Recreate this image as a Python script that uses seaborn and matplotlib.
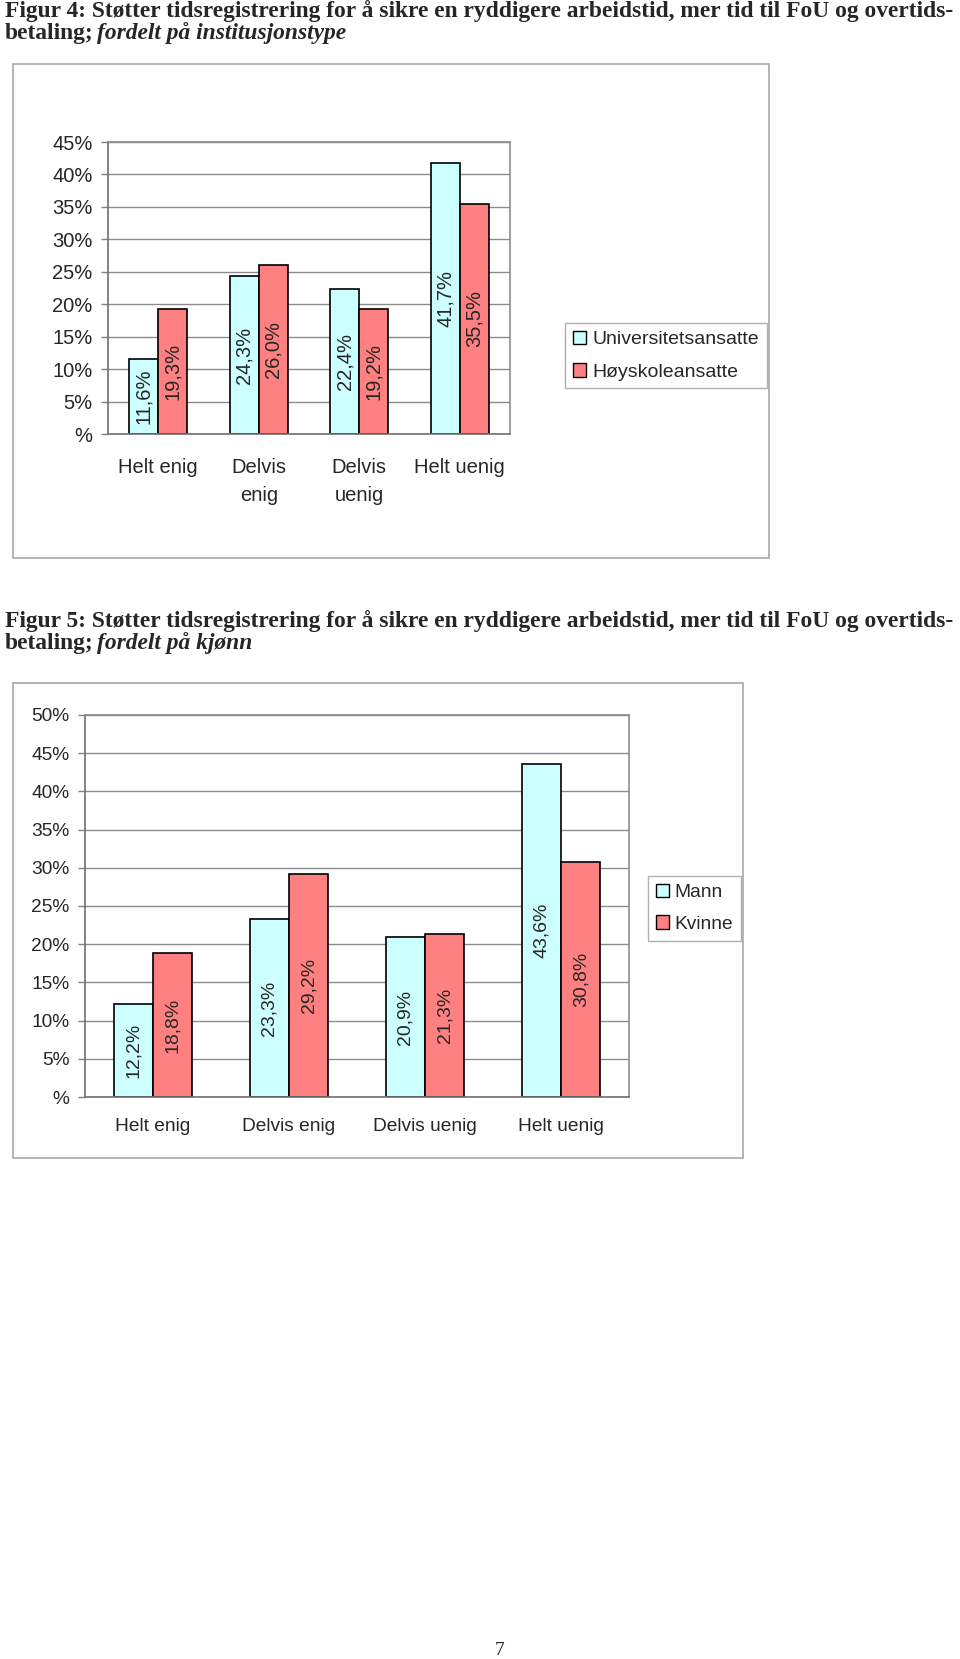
import matplotlib
matplotlib.use('Agg')
import matplotlib.pyplot as plt
import matplotlib.patches as mpatches
import numpy as np
import pandas as pd
import seaborn as sns

# data
svar_1 = ['Helt enig', 'Delvis\nenig', 'Delvis\nuenig', 'Helt uenig']
univ = [11.6, 24.3, 22.4, 41.7]
hoysk = [19.3, 26.0, 19.2, 35.5]
grupper_1 = ['Universitetsansatte', 'Høyskoleansatte']

svar_2 = ['Helt enig', 'Delvis enig', 'Delvis uenig', 'Helt uenig']
mann = [12.2, 23.3, 20.9, 43.6]
kvinne = [18.8, 29.2, 21.3, 30.8]
grupper_2 = ['Mann', 'Kvinne']

farger = ['#CCFFFF', '#FF8080']

tittel_1 = 'Figur 4: Støtter tidsregistrering for å sikre en ryddigere arbeidstid, mer tid til FoU og overtids-'
tittel_1b = 'fordelt på institusjonstype'
tittel_2 = 'Figur 5: Støtter tidsregistrering for å sikre en ryddigere arbeidstid, mer tid til FoU og overtids-'
tittel_2b = 'fordelt på kjønn'

sns.set_style('white')
plt.rcParams['font.family'] = ['Liberation Sans', 'DejaVu Sans']

W, H = 960, 1659
fig = plt.figure(figsize=(W / 100, H / 100), dpi=100)
fig.patch.set_facecolor('white')


def boks(x0, y0, x1, y1):
    # pixel (topp-venstre origo) -> figurkoordinater
    return [x0 / W, 1 - y1 / H, (x1 - x0) / W, (y1 - y0) / H]


def tittel(linje1, kursiv, y1, y2):
    t = fig.text(5 / W, 1 - y1 / H, linje1, family='Liberation Serif',
                 weight='bold', fontsize=14, va='baseline')
    r = fig.canvas.get_renderer()
    fs = 14 * 952 / t.get_window_extent(r).width
    t.set_fontsize(fs)
    t2 = fig.text(5 / W, 1 - y2 / H, 'betaling;', family='Liberation Serif',
                  weight='bold', fontsize=fs, va='baseline')
    bb = t2.get_window_extent(r)
    fig.text((bb.x1 + 3) / W, 1 - y2 / H, kursiv, family='Liberation Serif',
             weight='bold', style='italic', fontsize=fs, va='baseline')


def tegn(ax, svar, a, b, grupper, ymax, fs_tick, fs_lab, leg_xy, fs_leg, pad_x):
    df = pd.DataFrame({'svar': svar * 2, 'andel': a + b,
                       'gruppe': [grupper[0]] * 4 + [grupper[1]] * 4})
    sns.barplot(data=df, x='svar', y='andel', hue='gruppe', hue_order=grupper,
                palette=farger, saturation=1, edgecolor='black', linewidth=1.2,
                width=0.58, ax=ax, legend=False)
    for c in ax.containers:
        ax.bar_label(c, labels=[f'{v:.1f}%'.replace('.', ',') for v in c.datavalues],
                     label_type='center', rotation=90, fontsize=fs_lab)
    ax.set_ylim(0, ymax)
    ticks = np.arange(0, ymax + 0.1, 5)
    ax.set_yticks(ticks)
    ax.set_yticklabels(['%'] + [f'{int(t)}%' for t in ticks[1:]], fontsize=fs_tick)
    ax.set_xlim(-0.5, 3.5)
    ax.set_xticks(range(4))
    ax.set_xticklabels(svar, fontsize=fs_tick, linespacing=1.65)
    ax.set_xticks(np.arange(-0.5, 4, 1), minor=True)
    ax.tick_params(axis='x', which='major', length=0, pad=pad_x)
    ax.tick_params(axis='x', which='minor', length=5, color='#808080', width=1)
    ax.tick_params(axis='y', length=5, color='#808080', width=1, left=True, pad=6)
    ax.set_xlabel('')
    ax.set_ylabel('')
    ax.yaxis.grid(True, color='#8c8c8c', lw=1)
    ax.set_axisbelow(True)
    for s in ax.spines.values():
        s.set_visible(True)
        s.set_color('#8c8c8c')
        s.set_linewidth(1.2)
    ax.spines['left'].set_color('#707070')
    ax.spines['bottom'].set_color('#707070')
    handles = [mpatches.Patch(facecolor=f, edgecolor='black', lw=1, label=g)
               for f, g in zip(farger, grupper)]
    ax.legend(handles=handles, loc='upper left',
              bbox_to_anchor=(leg_xy[0] / W, 1 - leg_xy[1] / H),
              bbox_transform=fig.transFigure, frameon=True, fancybox=False,
              edgecolor='#b0b0b0', framealpha=1, borderaxespad=0,
              handlelength=0.7, handleheight=0.7, handletextpad=0.3,
              labelspacing=0.75, borderpad=0.4, fontsize=fs_leg)


# Figur 4
tittel(tittel_1, tittel_1b, 17, 39)
fig.add_artist(mpatches.Rectangle(boks(13, 64, 769, 558)[:2], *boks(13, 64, 769, 558)[2:],
                                  transform=fig.transFigure, fill=False,
                                  edgecolor='#a8a8a8', lw=1.2))
ax1 = fig.add_axes(boks(108, 142, 510, 434))
tegn(ax1, svar_1, univ, hoysk, grupper_1, 45, 14.5, 14.5, (565, 323), 14.0, 17)

# Figur 5
tittel(tittel_2, tittel_2b, 627, 649)
fig.add_artist(mpatches.Rectangle(boks(13, 683, 743, 1158)[:2], *boks(13, 683, 743, 1158)[2:],
                                  transform=fig.transFigure, fill=False,
                                  edgecolor='#a8a8a8', lw=1.2))
ax2 = fig.add_axes(boks(85, 715, 629, 1097))
tegn(ax2, svar_2, mann, kvinne, grupper_2, 50, 13.8, 14, (648, 876), 13.8, 15)

# sidetall
fig.text(500 / W, 1 - 1655 / H, '7', family='Liberation Serif', fontsize=14,
         ha='center', va='baseline')

fig.savefig('out.png', dpi=100, facecolor='white')
